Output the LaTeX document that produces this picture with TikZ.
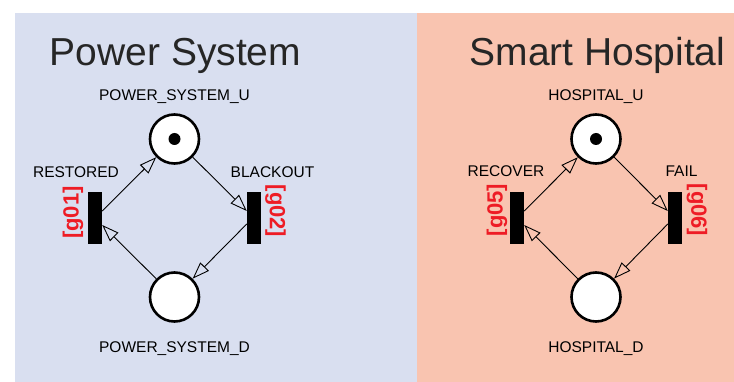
\documentclass[tikz,border=0pt]{standalone}
\usepackage{fontspec}
\setmainfont{Liberation Sans}
\usetikzlibrary{arrows.meta}
\definecolor{powerbg}{HTML}{D9DFF0}
\definecolor{hospbg}{HTML}{F9C4B0}
\definecolor{guardred}{HTML}{EE1C25}
\definecolor{titlegrey}{HTML}{262626}

\begin{document}
\begin{tikzpicture}[x=1pt,y=-1pt,
    place/.style={circle,draw,line width=2.6pt,fill=white,minimum size=49pt,inner sep=0pt},
    token/.style={circle,fill=black,minimum size=12pt,inner sep=0pt},
    trans/.style={rectangle,fill=black,minimum width=14pt,minimum height=52pt,inner sep=0pt},
    title/.style={anchor=base,text=titlegrey,font=\fontsize{39}{44}\selectfont},
    lbl/.style={anchor=base,font=\fontsize{15.5}{18}\selectfont},
    guard/.style={text=guardred,font=\bfseries\fontsize{22}{24}\selectfont,inner sep=0pt},
    arc/.style={line width=0.9pt,-{Triangle[open,length=17pt,width=12pt]}}]
    \useasboundingbox (0,0) rectangle (734,382);
    % panels
    \fill[powerbg] (15,13) rectangle (417,382);
    \fill[hospbg] (417,13) rectangle (734,382);
    \node[title] (pstitle) at (175.5,66) {Power System};
    \node[title] (shtitle) at (597.5,66) {Smart Hospital};

    % power system net
    \node[place] (psu) at (174.5,139) {};
    \node[token] (psutok) at (psu.center) {};
    \node[place] (psd) at (174.5,297) {};
    \node[trans] (g01) at (95,218) {};
    \node[trans] (g02) at (254,218) {};
    \node[lbl] (psulbl) at (174.5,101) {POWER\_SYSTEM\_U};
    \node[lbl] (psdlbl) at (174.5,352) {POWER\_SYSTEM\_D};
    \node[lbl] (g01lbl) at (76,178) {RESTORED};
    \node[lbl] (g02lbl) at (272.5,178) {BLACKOUT};
    \node[guard,rotate=90] (g01grd) at (73,212.5) {[g01]};
    \node[guard,rotate=-90] (g02grd) at (275.5,211) {[g02]};
    \draw[arc] ([yshift=7pt]g01.east) -- (psu);
    \draw[arc] (psu) -- ([yshift=7pt]g02.west);
    \draw[arc] ([yshift=-6pt]g02.west) -- (psd);
    \draw[arc] (psd) -- ([yshift=-7pt]g01.east);

    % smart hospital net
    \node[place] (hsu) at (596,139) {};
    \node[token] (hsutok) at (hsu.center) {};
    \node[place] (hsd) at (596,297) {};
    \node[trans] (g05) at (517,218) {};
    \node[trans] (g06) at (675,218) {};
    \node[lbl] (hsulbl) at (596,100.5) {HOSPITAL\_U};
    \node[lbl] (hsdlbl) at (596,352) {HOSPITAL\_D};
    \node[lbl] (g05lbl) at (506,177) {RECOVER};
    \node[lbl] (g06lbl) at (681.5,177) {FAIL};
    \node[guard,rotate=90] (g05grd) at (497,210) {[g05]};
    \node[guard,rotate=-90] (g06grd) at (697,210) {[g06]};
    \draw[arc] ([yshift=7pt]g05.east) -- (hsu);
    \draw[arc] (hsu) -- ([yshift=7pt]g06.west);
    \draw[arc] ([yshift=-6pt]g06.west) -- (hsd);
    \draw[arc] (hsd) -- ([yshift=-7pt]g05.east);
\end{tikzpicture}
\end{document}
